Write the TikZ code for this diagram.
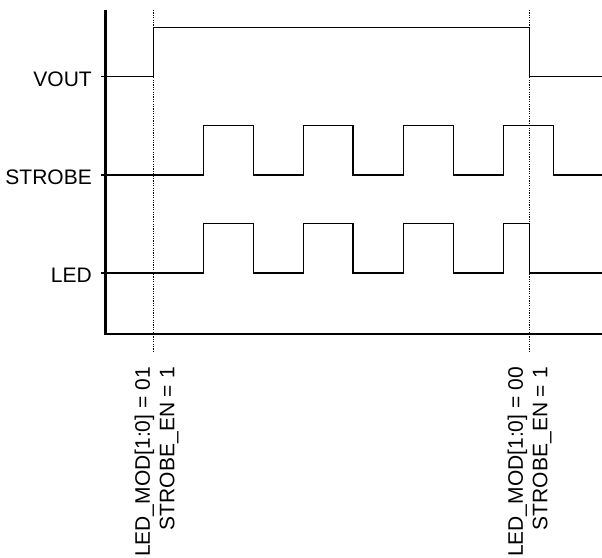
\documentclass[tikz,border=0pt]{standalone}
\usepackage{fontspec}
\setmainfont{Liberation Sans}
\begin{document}
\begin{tikzpicture}[x=1pt,y=-1pt,
  sig/.style={line width=1.1pt,line join=miter},
  axisline/.style={line width=2.4pt},
  guide/.style={line width=0.7pt,dash pattern=on 1.2pt off 1.2pt},
  siglabel/.style={font=\fontsize{21}{24}\selectfont,anchor=base east,inner sep=0pt},
  evlabel/.style={font=\fontsize{21}{24.5}\selectfont,rotate=90,align=right,inner sep=0pt,anchor=north east}]
\useasboundingbox (0,0) rectangle (602,557);
% guides
\draw[guide] (153.3,10) -- (153.3,352);
\draw[guide] (529.5,10) -- (529.5,352);
% signals
\draw[sig] (101,76.7) -- (153.3,76.7) -- (153.3,27.5) -- (529.5,27.5) -- (529.5,76.7) -- (602,76.7);
\draw[sig] (101,175) -- (203.6,175)
  -- (203.6,125.7) -- (253.4,125.7) -- (253.4,175) -- (303.4,175)
  -- (303.4,125.7) -- (353,125.7) -- (353,175) -- (403.4,175)
  -- (403.4,125.7) -- (453.3,125.7) -- (453.3,175) -- (503.6,175)
  -- (503.6,125.7) -- (553.3,125.7) -- (553.3,175) -- (602,175);
\draw[sig] (101,273) -- (203.6,273)
  -- (203.6,223.3) -- (253.4,223.3) -- (253.4,273) -- (303.4,273)
  -- (303.4,223.3) -- (353,223.3) -- (353,273) -- (403.4,273)
  -- (403.4,223.3) -- (453.3,223.3) -- (453.3,273) -- (503.6,273)
  -- (503.6,223.3) -- (529.5,223.3) -- (529.5,273) -- (602,273);
% axes
\draw[axisline] (105.3,10) -- (105.3,334) -- (602,334);
% labels
\node[siglabel] (vout) at (92,86) {VOUT};
\node[siglabel] (strobe) at (92,184) {STROBE};
\node[siglabel] (led) at (92,282) {LED};
\node[evlabel] (ev1) at (134.5,367) {LED\_MOD[1:0] = 01\\STROBE\_EN = 1};
\node[evlabel] (ev2) at (507.5,367) {LED\_MOD[1:0] = 00\\STROBE\_EN = 1};
\end{tikzpicture}
\end{document}
